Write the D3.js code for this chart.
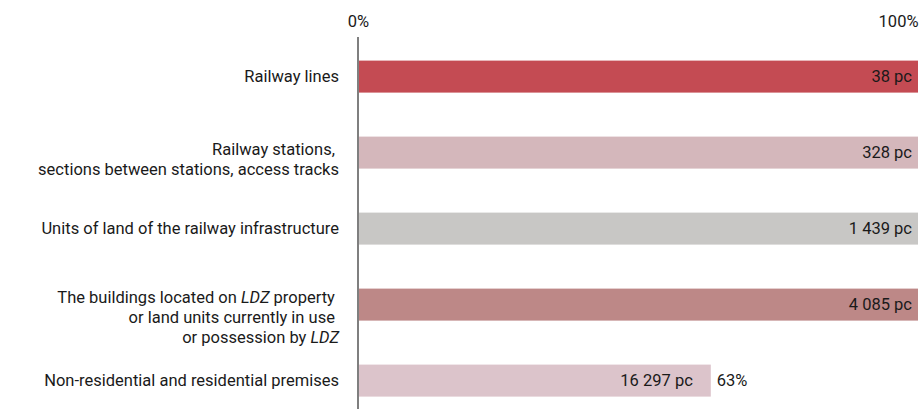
<!DOCTYPE html>
<html>
<head>
<meta charset="utf-8">
<script src="https://cdn.jsdelivr.net/npm/d3@7"></script>
<style>
  html, body { margin: 0; padding: 0; background: #fff; }
  svg { display: block; }
  text { font-family: Roboto, "Open Sans", sans-serif; fill: #1a1a1a; }
</style>
</head>
<body>
<svg id="chart" width="922" height="409"></svg>
<script>
// Category labels, one array entry per line; segments marked italic where needed
const categories = [
  [[{t: "Railway lines"}]],
  [[{t: "Railway stations,\u00a0"}], [{t: "sections between stations, access tracks"}]],
  [[{t: "Units of land of the railway infrastructure"}]],
  [[{t: "The buildings located on "}, {t: "LDZ", i: true}, {t: " property\u00a0"}],
   [{t: "or land units currently in use\u00a0"}],
   [{t: "or possession by "}, {t: "LDZ", i: true}]],
  [[{t: "Non-residential and residential premises"}]]
];
const shares = [100, 100, 100, 100, 63];          // percent of bar length
const counts = ["38 pc", "328 pc", "1 439 pc", "4 085 pc", "16 297 pc"];
const colors = ["#c44b53", "#d4b7bb", "#c8c7c5", "#bd8887", "#dcc4cb"];
const tickValues = [0, 100];
const tickLabels = ["0%", "100%"];

const svg = d3.select("#chart");
const margin = {top: 37, right: 4, bottom: 0, left: 358};
const W = 922, H = 409;
const fs = 16.5;

const x = d3.scaleLinear().domain([0, 100]).range([margin.left, W - margin.right]);
const y = d3.scaleBand().domain(d3.range(categories.length))
  .range([37.8, 419.4]).paddingInner(0.579).paddingOuter(0.3);

// Bars
svg.append("g").selectAll("rect")
  .data(shares)
  .join("rect")
  .attr("x", x(0))
  .attr("y", (d, i) => y(i))
  .attr("width", d => x(d) - x(0))
  .attr("height", y.bandwidth())
  .attr("fill", (d, i) => colors[i]);

// Vertical baseline at 0%
svg.append("line")
  .attr("x1", x(0)).attr("x2", x(0))
  .attr("y1", margin.top).attr("y2", H)
  .attr("stroke", "#7f7f7f").attr("stroke-width", 2);

// Top axis tick labels
const axis = d3.axisTop(x).tickValues(tickValues).tickFormat((d, i) => tickLabels[i]).tickSize(0);
const gAxis = svg.append("g").attr("transform", "translate(0,30)").call(axis);
gAxis.select(".domain").remove();
gAxis.selectAll("text")
  .attr("font-size", fs)
  .attr("dy", 0)
  .attr("font-family", null)
  .attr("fill", null)
  .attr("text-anchor", (d, i) => i === 0 ? "middle" : "end");

// Category labels (multi-line, right-aligned)
const lineH = 20;
svg.append("g").selectAll("text")
  .data(categories)
  .join("text")
  .attr("font-size", fs)
  .attr("text-anchor", "end")
  .each(function(lines, i) {
    const cy = y(i) + y.bandwidth() / 2 - (lines.length - 1) * 3.5;
    const t = d3.select(this);
    lines.forEach((segs, k) => {
      segs.forEach((s, j) => {
        const ts = t.append("tspan").text(s.t);
        if (j === 0) ts.attr("x", 339).attr("y", cy + k * lineH).attr("dy", "0.35em");
        if (s.i) ts.attr("font-style", "italic");
      });
    });
  });

// Count labels at the end of each bar
svg.append("g").selectAll("text")
  .data(counts)
  .join("text")
  .attr("font-size", fs)
  .attr("text-anchor", "end")
  .attr("x", (d, i) => x(shares[i]) - (shares[i] < 100 ? 18 : 6))
  .attr("y", (d, i) => y(i) + y.bandwidth() / 2)
  .attr("dy", "0.35em")
  .text(d => d);

// Share label beside bars that fall short of 100%
svg.append("g").selectAll("text")
  .data(shares.map((s, i) => ({s, i})).filter(d => d.s < 100))
  .join("text")
  .attr("font-size", fs)
  .attr("x", d => x(d.s) + 6)
  .attr("y", d => y(d.i) + y.bandwidth() / 2)
  .attr("dy", "0.35em")
  .text(d => d.s + "%");
</script>
</body>
</html>
